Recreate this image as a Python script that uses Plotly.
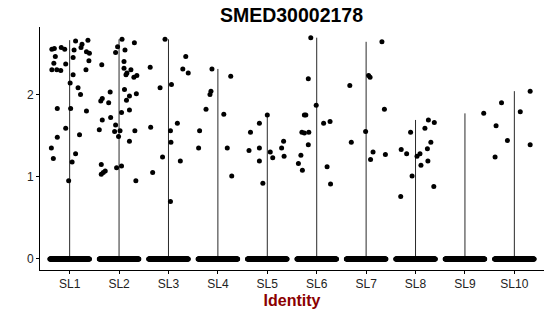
import numpy as np
import plotly.graph_objects as go

title_text = "SMED30002178"
categories = ["SL1", "SL2", "SL3", "SL4", "SL5", "SL6", "SL7", "SL8", "SL9", "SL10"]

# Non-zero expression values per identity, with their horizontal jitter offsets
jit = {
 "SL1": [(-0.36,2.55),(-0.31,2.56),(-0.17,2.57),(-0.10,2.55),(-0.29,2.46),(-0.32,2.38),(-0.36,2.30),(-0.26,2.30),
         (-0.18,2.29),(-0.08,2.37),(0.12,2.65),(0.09,2.54),(0.07,2.45),(0.25,2.61),(0.23,2.57),(0.37,2.66),
         (0.34,2.52),(0.40,2.50),(0.39,2.41),(0.33,2.30),(0.07,2.24),(0.01,2.14),(0.17,2.08),(0.22,2.00),
         (-0.25,1.83),(0.02,1.83),(0.34,1.80),(-0.08,1.59),(-0.25,1.48),(0.20,1.51),(-0.37,1.35),(-0.33,1.22),
         (0.05,1.18),(0.12,1.28),(-0.02,0.95)],
 "SL2": [(0.06,2.67),(-0.03,2.58),(0.31,2.63),(-0.07,2.51),(0.12,2.54),(-0.35,2.36),(0.10,2.40),(0.10,2.32),
         (0.24,2.30),(0.16,2.26),(0.14,2.24),(0.30,2.21),(0.36,2.23),(0.11,2.06),(-0.18,2.03),(0.21,1.98),
         (0.35,2.01),(0.15,1.93),(-0.34,1.95),(-0.37,1.92),(-0.21,1.90),(0.21,1.81),(0.05,1.78),(-0.17,1.72),
         (-0.34,1.69),(-0.07,1.63),(-0.40,1.57),(-0.09,1.55),(0.02,1.56),(0.32,1.56),(-0.01,1.49),(0.21,1.43),
         (-0.36,1.15),(-0.36,1.03),(-0.32,1.05),(-0.28,1.07),(-0.05,1.11),(0.05,1.13),(0.34,0.95)],
 "SL3": [(-0.37,2.33),(-0.17,2.08),(-0.07,2.67),(-0.36,1.60),(-0.32,1.05),(-0.12,1.24),(0.35,2.46),(0.29,2.31),
         (0.40,2.26),(0.06,2.12),(0.18,1.65),(0.04,1.56),(0.05,1.42),(0.04,0.70),(0.24,1.19)],
 "SL4": [(-0.12,2.31),(-0.14,2.04),(-0.16,2.00),(0.26,2.22),(-0.24,1.82),(0.12,1.76),(-0.37,1.56),(-0.39,1.35),
         (0.19,1.35),(0.28,1.01)],
 "SL5": [(-0.34,1.54),(-0.16,1.65),(0.00,1.75),(-0.16,1.35),(0.29,1.35),(0.33,1.43),(-0.37,1.32),(-0.16,1.19),
         (-0.09,0.92),(0.06,1.30),(0.11,1.23),(0.34,1.25)],
 "SL6": [(-0.12,2.69),(-0.17,2.19),(-0.01,1.87),(-0.25,1.75),(-0.22,1.75),(0.14,1.65),(0.27,1.67),(-0.30,1.54),
         (-0.25,1.53),(-0.16,1.54),(-0.17,1.39),(-0.32,1.26),(-0.37,1.16),(-0.29,1.08),(0.21,1.12),(0.28,0.91)],
 "SL7": [(-0.33,2.11),(0.05,2.23),(0.08,2.21),(0.32,2.64),(0.37,1.82),(-0.01,1.55),(-0.30,1.42),(0.09,1.21),
         (0.14,1.30),(0.39,1.27)],
 "SL8": [(-0.10,1.54),(-0.29,1.33),(-0.18,1.28),(-0.07,1.01),(-0.30,0.76),(0.03,1.25),(0.26,1.69),(0.38,1.66),
         (0.19,1.59),(0.31,1.42),(0.24,1.34),(0.09,1.28),(0.11,1.14),(0.25,1.19),(0.37,0.88)],
 "SL9": [(0.38,1.77)],
 "SL10": [(-0.26,1.90),(-0.37,1.62),(-0.14,1.44),(0.12,1.79),(0.32,2.04),(0.32,1.39),(-0.39,1.24)],
}
# number of cells with zero expression drawn in the dense band at 0
zero_counts = [160, 160, 160, 160, 160, 160, 160, 160, 160, 160]

fig = go.Figure()

# thin violins (min to max of each group)
vx, vy = [], []
for i, c in enumerate(categories):
    vals = [v for _, v in jit[c]] + [0.0]
    vx += [i + 1, i + 1, None]
    vy += [min(vals), max(vals), None]
fig.add_trace(go.Scatter(x=vx, y=vy, mode="lines", line=dict(color="#2a2a2a", width=1),
                         hoverinfo="skip", showlegend=False))

# points
px, py = [], []
for i, c in enumerate(categories):
    n = zero_counts[i]
    offs = np.linspace(-0.4, 0.4, n)
    px += list(i + 1 + offs)
    py += [0.0] * n
    for o, v in jit[c]:
        px.append(i + 1 + o)
        py.append(v)
fig.add_trace(go.Scatter(x=px, y=py, mode="markers", marker=dict(color="black", size=5),
                         hoverinfo="skip", showlegend=False))

fig.update_layout(
    width=550, height=316,
    margin=dict(l=40, r=6, t=27, b=46),
    paper_bgcolor="white", plot_bgcolor="white",
    font=dict(family="Liberation Sans, Arial, sans-serif", color="black", size=12),
    title=dict(text="<b>" + title_text + "</b>", x=0.53, xanchor="center", y=0.952, yanchor="middle",
               font=dict(size=19.5, color="black")),
    showlegend=False,
)
fig.update_xaxes(range=[0.4, 10.6], tickvals=list(range(1, 11)), ticktext=categories,
                 showgrid=False, zeroline=False, showline=True, linecolor="black", linewidth=1,
                 ticks="outside", ticklen=3, tickcolor="black",
                 tickfont=dict(size=12, color="#222"),
                 title=dict(text="<b>Identity</b>", font=dict(size=16, color="#8B0000"), standoff=4))
fig.update_yaxes(range=[-0.134, 2.82], tickvals=[0, 1, 2], showgrid=False, zeroline=False,
                 showline=True, linecolor="black", linewidth=1,
                 ticks="outside", ticklen=3, tickcolor="black",
                 tickfont=dict(size=12, color="#222"))

fig.write_html("out.html")
